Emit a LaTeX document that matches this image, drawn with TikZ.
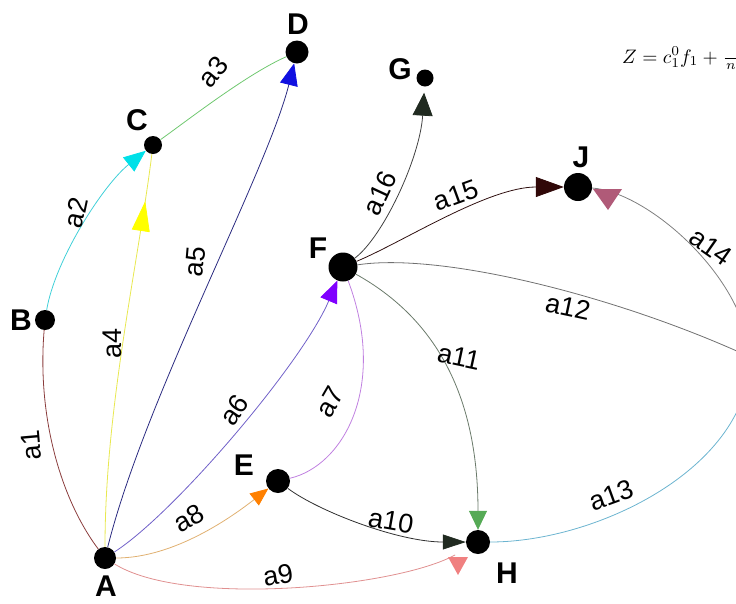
\documentclass[tikz,border=0pt]{standalone}
\usepackage{graphicx}
\usepackage{fontspec}
\setmainfont{Liberation Sans}
\usetikzlibrary{arrows.meta,decorations.markings}
\definecolor{lA1}{HTML}{8A3C3C}
\definecolor{lA2}{HTML}{40D0D8}
\definecolor{lA3}{HTML}{70C870}
\definecolor{lA4}{HTML}{E8E850}
\definecolor{lA5}{HTML}{2A2A80}
\definecolor{lA6}{HTML}{7060C8}
\definecolor{lA7}{HTML}{C080E0}
\definecolor{lA8}{HTML}{E0B070}
\definecolor{lA9}{HTML}{E09090}
\definecolor{lA10}{HTML}{303030}
\definecolor{lA11}{HTML}{6A7A6A}
\definecolor{lA12}{HTML}{707070}
\definecolor{lA13}{HTML}{6CB4D0}
\definecolor{lA14}{HTML}{808080}
\definecolor{lA15}{HTML}{301010}
\definecolor{lA16}{HTML}{404040}
\definecolor{tCyan}{HTML}{00E0E8}
\definecolor{tYellow}{HTML}{FFFF00}
\definecolor{tBlue}{HTML}{1010E0}
\definecolor{tViolet}{HTML}{8000FF}
\definecolor{tOrange}{HTML}{FF8000}
\definecolor{tPink}{HTML}{F08080}
\definecolor{tDark}{HTML}{202A20}
\definecolor{tGreen}{HTML}{55AA55}
\definecolor{tMauve}{HTML}{B05A78}
\definecolor{tMaroon}{HTML}{300808}
\begin{document}
\begin{tikzpicture}[x=1pt,y=-1pt,
  vdot/.style={circle,fill=black,inner sep=0pt,minimum size=#1},
  vlabel/.style={font=\fontsize{30}{30}\selectfont\bfseries,inner sep=0pt},
  elabel/.style={font=\fontsize{27}{27}\selectfont,inner sep=0pt},
  conn/.style={line width=0.8pt,draw=#1},
  arr/.style={-{Triangle[length=22pt,width=18pt,color=#1,fill=#1]}}
]
\useasboundingbox (0,0) rectangle (736,603);
\clip (0,0) rectangle (736,603);

% vertices
\node[vdot=22pt] (A) at (105,558) {};
\node[vdot=20pt] (B) at (45,320) {};
\node[vdot=18pt] (C) at (153,145) {};
\node[vdot=23pt] (D) at (297,52) {};
\node[vdot=24pt] (E) at (278,481) {};
\node[vdot=29pt] (F) at (343,267) {};
\node[vdot=17pt] (G) at (425,78) {};
\node[vdot=24pt] (H) at (478,542) {};
\node[vdot=28pt] (J) at (578,187) {};
\coordinate (I) at (750,357);

% vertex labels
\node[vlabel] (lA) at (106,586) {A};
\node[vlabel] (lB) at (21,320) {B};
\node[vlabel] (lC) at (137,120) {C};
\node[vlabel] (lD) at (298,24) {D};
\node[vlabel] (lE) at (244,465) {E};
\node[vlabel] (lF) at (318,248) {F};
\node[vlabel] (lG) at (400,69) {G};
\node[vlabel] (lH) at (507,573) {H};
\node[vlabel] (lJ) at (581,157) {J};

% connectors
\draw[conn=lA1] (A) .. controls +(-45,-60) and +(-8,95) .. (B);
\draw[conn=lA2, arr=tCyan] (B) .. controls +(10,-60) and +(-50,40) .. (C);
\draw[conn=lA3] (C) .. controls +(35,-25) and +(-50,22) .. (D);
\draw[conn=lA4, postaction={decorate},
  decoration={markings, mark=at position 0.88 with {\arrow{Triangle[length=30pt,width=18pt,color=tYellow,fill=tYellow]}}}]
  (A) .. controls +(0,-150) and +(-15,120) .. (C);
\draw[conn=lA5, arr=tBlue] (A) .. controls +(40,-160) and +(-30,120) .. (D);
\draw[conn=lA6, arr=tViolet] (A) .. controls +(70,-45) and +(-40,95) .. (F);
\draw[conn=lA7] (E) .. controls +(65,-15) and +(45,120) .. (F);
\draw[conn=lA8, -{Triangle[length=18pt,width=15pt,color=tOrange,fill=tOrange]}] (A) .. controls +(70,0) and +(-45,35) .. (E);
\draw[conn=lA9, shorten >=14pt] (A) .. controls +(80,50) and +(-80,45) .. (H);
\draw[conn=lA10, -{Triangle[length=23pt,width=15pt,color=tDark,fill=tDark]}] (E) .. controls +(40,30) and +(-80,0) .. (H);
\draw[conn=lA11, -{Triangle[length=19pt,width=18pt,color=tGreen,fill=tGreen]}] (F) .. controls +(90,50) and +(0,-150) .. (H);
\draw[conn=lA12] (F) .. controls +(100,-15) and +(-130,-60) .. (I);
\draw[conn=lA13] (H) .. controls +(120,0) and +(0,110) .. (I);
\draw[conn=lA14] (I) .. controls +(-5,-80) and +(70,5) .. (J);
\draw[conn=lA15, -{Triangle[length=28pt,width=20pt,color=tMaroon,fill=tMaroon]}] (F) .. controls +(60,-25) and +(-90,0) .. (J);
\draw[conn=lA16, shorten >=6pt, -{Triangle[length=23pt,width=20pt,color=tDark,fill=tDark]}] (F) .. controls +(40,-30) and +(-5,80) .. (G);

% detached arrow heads
\fill[tPink] (448,557) -- (468,557) -- (458,575) -- cycle;
\fill[tMauve] (593,189) -- (622,189) -- (608,210) -- cycle;

% edge labels
\node[elabel, rotate=95] (t1) at (31,445) {a1};
\node[elabel, rotate=78] (t2) at (76,213) {a2};
\node[elabel, rotate=50] (t3) at (213,72) {a3};
\node[elabel, rotate=90] (t4) at (112,343) {a4};
\node[elabel, rotate=85] (t5) at (195,262) {a5};
\node[elabel, rotate=55] (t6) at (234,410) {a6};
\node[elabel, rotate=60] (t7) at (330,402) {a7};
\node[elabel, rotate=30] (t8) at (189,518) {a8};
\node[elabel, rotate=10] (t9) at (278,575) {a9};
\node[elabel, rotate=-10] (t10) at (391,521) {a10};
\node[elabel, rotate=-12] (t11) at (459,357) {a11};
\node[elabel, rotate=-12] (t12) at (568,307) {a12};
\node[elabel, rotate=20] (t13) at (611,495) {a13};
\node[elabel, rotate=-35] (t14) at (711,247) {a14};
\node[elabel, rotate=20] (t15) at (456,195) {a15};
\node[elabel, rotate=65] (t16) at (380,193) {a16};

% formula (cut at right edge)
\node[anchor=base west, inner sep=0pt] (Zf) at (622,63)
  {\scalebox{1.95}{$Z=c_1^0f_1+\frac{\hspace*{9pt}b_1}{n_1\hspace*{6pt}}$}};
\end{tikzpicture}
\end{document}
